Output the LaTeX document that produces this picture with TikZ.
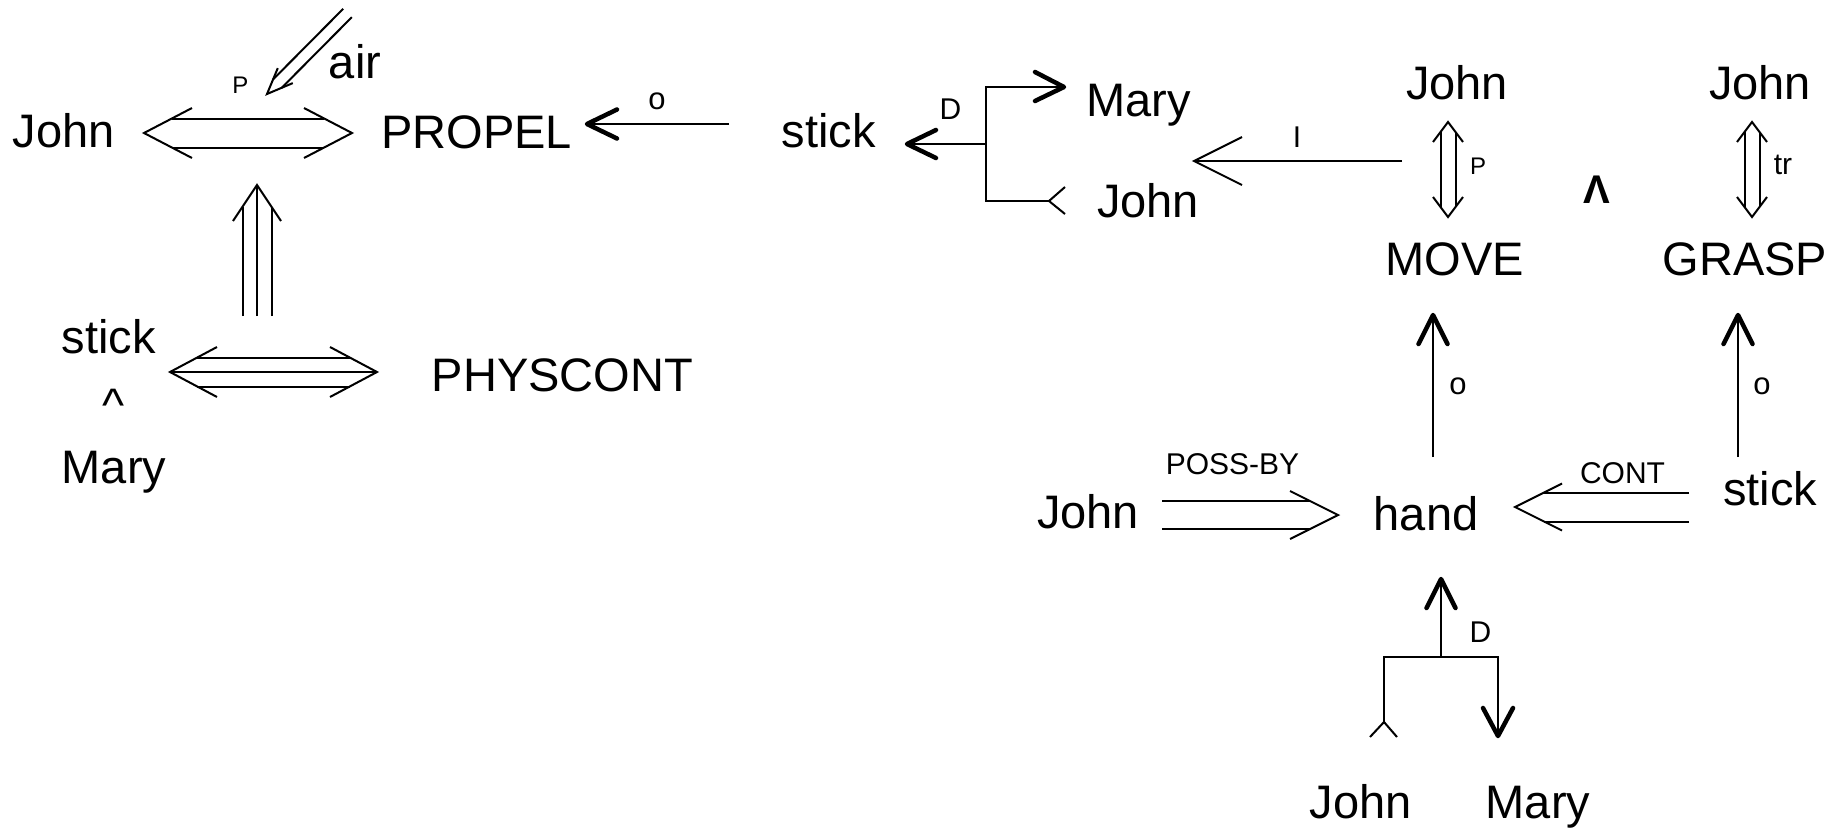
\documentclass[tikz,border=0pt]{standalone}
\usepackage{fontspec}
\setmainfont{Liberation Sans}
\usetikzlibrary{calc}
\begin{document}
\begin{tikzpicture}[x=1pt,y=-1pt,
  big/.style={font=\fontsize{47}{56}\selectfont, inner sep=0pt, anchor=base},
  lbl/.style={font=\fontsize{30}{36}\selectfont, inner sep=0pt, anchor=base},
  lblp/.style={font=\fontsize{24}{28}\selectfont, inner sep=0pt, anchor=base},
  oo/.style={font=\fontsize{31}{38}\selectfont, inner sep=0pt, anchor=base},
  ln/.style={line width=2pt},
  thk/.style={line width=4.5pt, line cap=round, line join=round}]
\useasboundingbox (0,0) rectangle (1845,828);

% ---------- text nodes ----------
\node[big] (johnL) at (63.5,147) {John};
\node[big] (propel) at (476.5,148) {PROPEL};
\node[big] (air) at (355,78) {air};
\node[lblp] (pP) at (240.5,93) {P};
\node[big] (stickL) at (108.5,353) {stick};
\node[big] (andL) at (114,421) {\textasciicircum};
\node[big] (maryL) at (114,483) {Mary};
\node[big] (physcont) at (562.5,391) {PHYSCONT};
\node[oo] (o1) at (657,109) {o};
\node[big] (stickM) at (828.5,147) {stick};
\node[lbl] (d1) at (950.5,119) {D};
\node[big] (maryM) at (1138.5,116) {Mary};
\node[big] (johnM) at (1148,217) {John};
\node[lbl] (iL) at (1297,147) {I};
\node[big] (johnMv) at (1457,99) {John};
\node[lblp] (pP2) at (1478,174) {P};
\node[big] (move) at (1454.5,275) {MOVE};
\node[big, font=\fontsize{40}{48}\selectfont\bfseries] (andR) at (1597,203) {Λ};
\node[big] (johnGr) at (1760,99) {John};
\node[lbl] (tr) at (1783,174) {tr};
\node[big] (grasp) at (1745,275) {GRASP};
\node[oo] (o2) at (1458,394) {o};
\node[oo] (o3) at (1762,394) {o};
\node[big] (johnB) at (1088,528) {John};
\node[lbl] (possby) at (1232.5,474) {POSS-BY};
\node[big] (hand) at (1426,530) {hand};
\node[lbl] (cont) at (1622.5,483) {CONT};
\node[big] (stickR) at (1770,505) {stick};
\node[lbl] (d2) at (1480.5,642) {D};
\node[big] (johnBot) at (1360.5,818) {John};
\node[big] (maryBot) at (1538,818) {Mary};

% ---------- A: John <=> PROPEL ----------
\coordinate (aL) at (144,133); \coordinate (aR) at (352,133);
\draw[ln] ($(aL)+(27.8,-14.5)$) -- ($(aR)+(-27.8,-14.5)$);
\draw[ln] ($(aL)+(27.8,14.5)$) -- ($(aR)+(-27.8,14.5)$);
\draw[ln] ($(aL)+(48,-25)$) -- (aL) -- ($(aL)+(48,25)$);
\draw[ln] ($(aR)+(-48,-25)$) -- (aR) -- ($(aR)+(-48,25)$);

% ---------- B: air arrow ----------
\coordinate (bT) at (267,94);
\coordinate (bS1) at (351.8,17.2); \coordinate (bS2) at (343.2,8.8);
\draw[ln] (281.7,87.8) -- (bS1);
\draw[ln] (273.1,79.4) -- (bS2);
\draw[ln] (292.8,83.1) -- (bT) -- (277.8,68.1);

% ---------- C: triple arrow up ----------
\coordinate (cT) at (257,185); \coordinate (cB) at (257,316);
\draw[ln] (cB) -- (cT);
\draw[ln] ($(cB)+(-14.5,0)$) -- ($(cT)+(-14.5,21.75)$);
\draw[ln] ($(cB)+(14.5,0)$) -- ($(cT)+(14.5,21.75)$);
\draw[ln] ($(cT)+(-24,36)$) -- (cT) -- ($(cT)+(24,36)$);

% ---------- D: stick <=> PHYSCONT (triple) ----------
\coordinate (dL) at (170,372); \coordinate (dR) at (377,372);
\draw[ln] (dL) -- (dR);
\draw[ln] ($(dL)+(27.3,-14.5)$) -- ($(dR)+(-27.3,-14.5)$);
\draw[ln] ($(dL)+(27.3,14.5)$) -- ($(dR)+(-27.3,14.5)$);
\draw[ln] ($(dL)+(47,-25)$) -- (dL) -- ($(dL)+(47,25)$);
\draw[ln] ($(dR)+(-47,-25)$) -- (dR) -- ($(dR)+(-47,25)$);

% ---------- E: stick -> PROPEL ----------
\coordinate (eT) at (587,124); \coordinate (eS) at (729,124);
\draw[ln] (eS) -- (eT);
\draw[thk] ($(eT)+(30,-14.5)$) -- (eT) -- ($(eT)+(30,14.5)$);

% ---------- F: D fork (middle) ----------
\coordinate (fT) at (907,144); \coordinate (fJ) at (986,144);
\coordinate (fTop) at (986,87); \coordinate (fBot) at (986,201);
\coordinate (fM) at (1064,87); \coordinate (fJn) at (1049,201);
\draw[ln] (fJ) -- (fT);
\draw[thk] ($(fT)+(29,-14)$) -- (fT) -- ($(fT)+(29,14)$);
\draw[ln] (fM) -- (fTop) -- (fBot) -- (fJn);
\draw[thk] ($(fM)+(-29,-15)$) -- (fM) -- ($(fM)+(-29,14)$);
\draw[ln] ($(fJn)+(16,-14)$) -- (fJn) -- ($(fJn)+(16,13)$);

% ---------- G: I arrow ----------
\coordinate (gT) at (1194,161); \coordinate (gS) at (1402,161);
\draw[ln] (gS) -- (gT);
\draw[ln] ($(gT)+(48,-24)$) -- (gT) -- ($(gT)+(48,24)$);

% ---------- H: John <=> MOVE, John <=> GRASP ----------
\foreach \x/\n in {1448/h1,1752/h2}{
  \coordinate (\n t) at (\x,122); \coordinate (\n b) at (\x,217);
  \draw[ln] ($(\n t)+(-7.5,10)$) -- ($(\n b)+(-7.5,-10)$);
  \draw[ln] ($(\n t)+(7.5,10)$) -- ($(\n b)+(7.5,-10)$);
  \draw[ln] ($(\n t)+(-15,20)$) -- (\n t) -- ($(\n t)+(15,20)$);
  \draw[ln] ($(\n b)+(-15,-20)$) -- (\n b) -- ($(\n b)+(15,-20)$);
}

% ---------- I: hand -> MOVE, stick -> GRASP ----------
\coordinate (iB1) at (1433,457); \coordinate (iT1) at (1433,315);
\draw[ln] (iB1) -- (iT1);
\draw[thk] ($(iT1)+(-14.5,29)$) -- (iT1) -- ($(iT1)+(14.5,29)$);
\coordinate (iB2) at (1738,457); \coordinate (iT2) at (1738,315);
\draw[ln] (iB2) -- (iT2);
\draw[thk] ($(iT2)+(-14.5,29)$) -- (iT2) -- ($(iT2)+(14.5,29)$);

% ---------- J: John => hand (POSS-BY) ----------
\coordinate (jS) at (1162,515); \coordinate (jT) at (1338,515);
\draw[ln] ($(jS)+(0,-14)$) -- ($(jT)+(-28,-14)$);
\draw[ln] ($(jS)+(0,14)$) -- ($(jT)+(-28,14)$);
\draw[ln] ($(jT)+(-48,-24)$) -- (jT) -- ($(jT)+(-48,24)$);

% ---------- K: stick => hand (CONT) ----------
\coordinate (kT) at (1515,507); \coordinate (kS) at (1689,507);
\draw[ln] ($(kS)+(0,-14.5)$) -- ($(kT)+(29,-14.5)$);
\draw[ln] ($(kS)+(0,14.5)$) -- ($(kT)+(29,14.5)$);
\draw[ln] ($(kT)+(47,-23.5)$) -- (kT) -- ($(kT)+(47,23.5)$);

% ---------- L: D fork (bottom) ----------
\coordinate (lT) at (1441,579); \coordinate (lJ) at (1441,657);
\coordinate (lL) at (1384,657); \coordinate (lR) at (1498,657);
\coordinate (lLb) at (1384,722); \coordinate (lRb) at (1498,736);
\draw[ln] (lJ) -- (lT);
\draw[thk] ($(lT)+(-14.5,29)$) -- (lT) -- ($(lT)+(14.5,29)$);
\draw[ln] (lLb) -- (lL) -- (lR) -- (lRb);
\draw[ln] ($(lLb)+(-14,15)$) -- (lLb) -- ($(lLb)+(13,15)$);
\draw[thk] ($(lRb)+(-15,-28)$) -- (lRb) -- ($(lRb)+(15,-28)$);
\end{tikzpicture}
\end{document}
